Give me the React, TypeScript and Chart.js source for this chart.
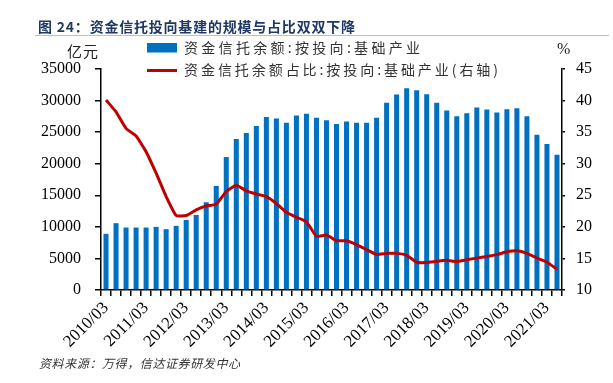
import React, { useEffect, useRef } from "react";
import { Chart, registerables } from "chart.js";

Chart.register(...registerables);

const quarters: string[] = [];
for (let y = 2010; y <= 2021; y++) {
  for (const m of ["03", "06", "09", "12"]) {
    if (y === 2021 && (m === "09" || m === "12")) continue;
    quarters.push(`${y}/${m}`);
  }
}

const balance: number[] = [
  8900, 10580, 9890, 9890, 9890, 10000, 9630, 10160, 11100, 11890, 13900, 16480,
  21060, 23900, 24850, 25960, 27380, 27170, 26480, 27640, 27900, 27270, 26900, 26270,
  26700, 26480, 26480, 27270, 29640, 30960, 31960, 31640, 31010, 29640, 28430, 27530,
  28010, 28910, 28590, 28120, 28640, 28800, 27530, 24580, 23110, 21430,
];

const share: number[] = [
  40.1, 38.2, 35.6, 34.4, 31.9, 28.5, 24.8, 21.8, 21.8, 22.7, 23.3, 23.6,
  25.6, 26.6, 25.7, 25.2, 24.8, 23.7, 22.3, 21.5, 20.8, 18.5, 18.7, 17.8,
  17.8, 17.2, 16.4, 15.6, 15.8, 15.8, 15.5, 14.4, 14.35, 14.55, 14.7, 14.5,
  14.8, 15.05, 15.3, 15.6, 16.05, 16.2, 15.8, 15.05, 14.4, 13.3,
];

const titleText = "图 24：资金信托投向基建的规模与占比双双下降";
const legendBar = "资金信托余额:按投向:基础产业";
const legendLine = "资金信托余额占比:按投向:基础产业(右轴)";
const leftUnit = "亿元";
const rightUnit = "%";
const sourceText = "资料来源：万得，信达证券研发中心";

const CJK = '"Noto Sans CJK SC", "Noto Sans", sans-serif';
const SERIF = '"Liberation Serif", "DejaVu Serif", serif';

function drawFit(ctx: CanvasRenderingContext2D, text: string, x: number, y: number, width: number) {
  const chars = Array.from(text);
  const widths = chars.map((c) => ctx.measureText(c).width);
  const natural = widths.reduce((a, b) => a + b, 0);
  const extra = chars.length > 1 ? (width - natural) / (chars.length - 1) : 0;
  let cx = x;
  chars.forEach((c, i) => {
    ctx.fillText(c, cx, y);
    cx += widths[i] + extra;
  });
}

const decorPlugin = {
  id: "decor",
  afterDraw(chart: any) {
    const ctx: CanvasRenderingContext2D = chart.ctx;
    ctx.save();
    ctx.textBaseline = "middle";
    ctx.textAlign = "left";
    // title
    ctx.fillStyle = "#1F3864";
    ctx.font = `bold 14px ${CJK}`;
    drawFit(ctx, titleText, 38, 27, 317);
    // separator
    ctx.strokeStyle = "#BFBFBF";
    ctx.lineWidth = 1;
    ctx.beginPath();
    ctx.moveTo(35, 35.5);
    ctx.lineTo(609, 35.5);
    ctx.stroke();
    // legend
    ctx.fillStyle = "#0070C0";
    ctx.fillRect(147, 43, 30, 9.5);
    ctx.strokeStyle = "#C00000";
    ctx.lineWidth = 3;
    ctx.beginPath();
    ctx.moveTo(147, 70.5);
    ctx.lineTo(177, 70.5);
    ctx.stroke();
    ctx.fillStyle = "#333333";
    ctx.font = `14px ${CJK}`;
    drawFit(ctx, legendBar, 184, 48, 236);
    drawFit(ctx, legendLine, 184, 70, 314);
    // units
    ctx.fillStyle = "#222";
    ctx.font = `15px ${CJK}`;
    drawFit(ctx, leftUnit, 67, 51, 31);
    ctx.font = `16px ${SERIF}`;
    ctx.fillText(rightUnit, 557, 50);
    // source
    ctx.fillStyle = "#333333";
    ctx.font = `italic 12px ${CJK}`;
    drawFit(ctx, sourceText, 39, 363, 201);
    ctx.restore();
  },
};

export default function App() {
  const ref = useRef<HTMLCanvasElement | null>(null);
  useEffect(() => {
    if (!ref.current) return;
    const chart = new Chart(ref.current, {
      type: "bar",
      data: {
        labels: quarters,
        datasets: [
          {
            type: "line",
            label: legendLine,
            data: share,
            yAxisID: "y1",
            borderColor: "#C00000",
            backgroundColor: "#C00000",
            borderWidth: 3,
            pointRadius: 0,
            tension: 0.15,
            order: 0,
          } as any,
          {
            type: "bar",
            label: legendBar,
            data: balance,
            yAxisID: "y",
            backgroundColor: "#0070C0",
            barPercentage: 0.5,
            categoryPercentage: 1,
            order: 1,
          },
        ],
      },
      options: {
        responsive: false,
        animation: false,
        devicePixelRatio: 1,
        layout: { padding: { top: 69, left: 0, right: 0, bottom: 0 } },
        plugins: { legend: { display: false }, tooltip: { enabled: false }, title: { display: false } },
        scales: {
          x: {
            type: "category",
            grid: { offset: true, drawOnChartArea: false, drawTicks: true, tickLength: 6, color: "#000", lineWidth: 1.5 },
            border: { color: "#000", width: 1.5 },
            ticks: {
              autoSkip: false,
              maxRotation: 45,
              minRotation: 45,
              padding: 2,
              color: "#000",
              font: { family: "Liberation Serif", size: 17 },
              callback: (_v: any, i: number) => (i % 4 === 0 ? quarters[i] : ""),
            },
            afterFit: (s: any) => {
              s.height = 93;
            },
          },
          y: {
            position: "left",
            min: 0,
            max: 35000,
            grid: { drawOnChartArea: false, drawTicks: true, tickLength: 6, color: "#000", lineWidth: 1.5 },
            border: { color: "#000", width: 1.5 },
            ticks: {
              stepSize: 5000,
              padding: 14,
              color: "#000",
              font: { family: "Liberation Serif", size: 16 },
              callback: (v: any) => String(v),
            },
            afterFit: (s: any) => {
              s.width = 101;
            },
          },
          y1: {
            position: "right",
            min: 10,
            max: 45,
            grid: { drawOnChartArea: false, drawTicks: true, tickLength: 3, color: "#000", lineWidth: 1.5 },
            border: { color: "#000", width: 1.5 },
            ticks: {
              stepSize: 5,
              padding: 11,
              color: "#000",
              font: { family: "Liberation Serif", size: 16 },
              callback: (v: any) => String(v),
            },
            afterFit: (s: any) => {
              s.width = 51;
            },
          },
        },
      },
      plugins: [decorPlugin],
    });
    return () => chart.destroy();
  }, []);
  return (
    <div style={{ position: "absolute", left: 0, top: 0, width: 613, height: 383, background: "#fff" }}>
      <canvas ref={ref} width={613} height={383} style={{ display: "block", width: 613, height: 383 }} />
    </div>
  );
}
